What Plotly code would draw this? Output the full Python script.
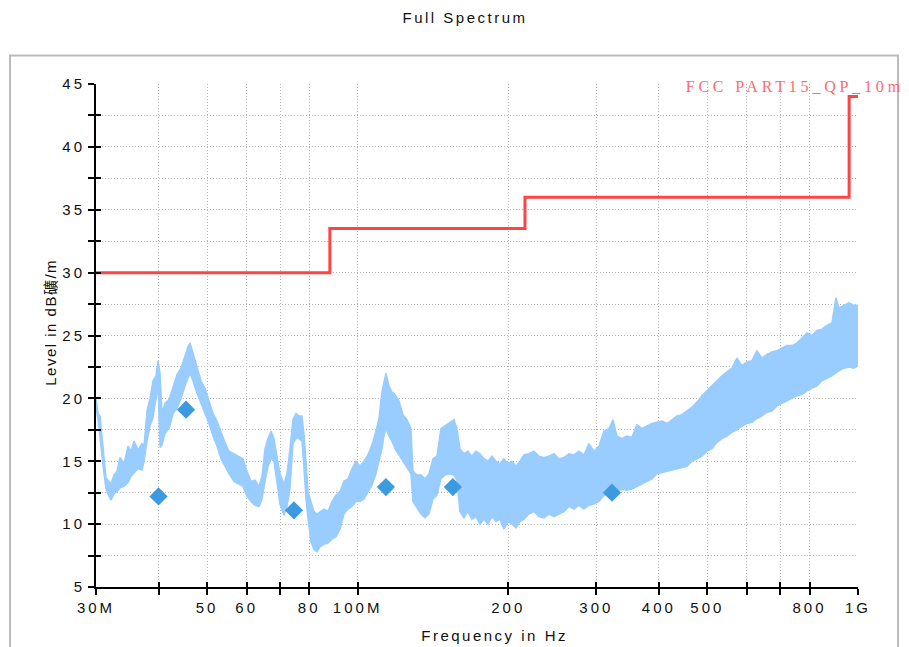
import plotly.graph_objects as go

# ---------------- data ----------------
title_text = "Full Spectrum"
x_title = "Frequency in Hz"
y_title = "Level in dB礦/m"
limit_name = "FCC PART15_QP_10m"

freq_mhz = [30.0, 30.28, 30.56, 30.84, 31.13, 31.41, 31.85, 32.15, 32.59, 33.04, 33.50, 34.12, 34.76,
            35.24, 35.73, 36.40, 37.07, 37.42, 37.94, 38.46, 39.00, 39.54, 39.91, 40.28, 40.65, 41.21,
            41.98, 42.76, 43.55, 44.36, 45.19, 45.81, 46.24, 46.88, 47.75, 48.64, 49.54, 50.46, 51.40,
            52.35, 53.33, 54.32, 55.33, 56.61, 57.93, 59.01, 60.10, 61.22, 62.36, 63.51, 64.40, 65.29,
            66.20, 67.12, 68.05, 68.99, 69.95, 71.25, 72.24, 73.24, 74.26, 75.29, 76.34, 77.40, 78.11,
            78.84, 79.57, 80.67, 81.79, 82.93, 84.08, 85.64, 87.23, 88.85, 90.51, 92.19, 93.90, 95.65,
            97.42, 99.23, 101.07, 102.95, 104.86, 106.81, 108.80, 110.31, 111.84, 112.88, 113.92, 115.50,
            117.11, 118.74, 120.94, 123.19, 125.48, 127.81, 128.99, 131.39, 133.83, 136.31, 138.85,
            141.42, 144.05, 146.73, 149.45, 152.23, 155.77, 157.94, 160.13, 163.10, 166.13, 169.22,
            172.36, 175.57, 178.83, 182.15, 185.54, 188.98, 192.49, 196.07, 199.71, 203.42, 207.20,
            211.05, 214.97, 219.98, 225.10, 230.34, 235.70, 241.18, 246.80, 252.54, 258.42, 264.43,
            270.59, 276.89, 283.33, 289.93, 296.67, 303.61, 310.68, 317.91, 323.81, 329.82, 337.50,
            345.35, 353.39, 361.62, 370.03, 378.64, 387.46, 396.47, 405.70, 415.14, 424.80, 434.69,
            444.80, 455.15, 465.75, 476.58, 487.67, 499.02, 510.64, 522.52, 534.68, 547.12, 559.85,
            572.89, 586.22, 599.86, 613.81, 628.10, 642.71, 657.67, 672.98, 688.63, 704.66, 721.06,
            737.84, 755.01, 772.58, 790.55, 808.96, 827.78, 847.05, 866.76, 886.93, 903.41, 915.95,
            937.26, 959.07, 981.38, 1000.0]
level_upper = [20.0, 18.8, 18.6, 17.0, 15.2, 13.7, 13.4, 13.2, 13.9, 14.2, 15.3, 14.8, 16.2,
               15.8, 16.6, 15.9, 16.4, 16.2, 19.0, 20.0, 21.4, 21.8, 23.0, 22.0, 18.8, 19.6,
               19.9, 21.0, 21.9, 22.4, 23.4, 24.1, 24.4, 23.6, 22.5, 21.4, 20.8, 19.8, 18.8,
               18.2, 17.3, 16.5, 15.8, 15.6, 15.4, 15.2, 14.2, 13.4, 13.5, 13.0, 13.8, 16.0,
               16.8, 17.4, 16.8, 15.4, 14.0, 13.2, 14.0, 16.0, 18.3, 18.8, 18.6, 18.6, 17.2,
               15.0, 12.6, 11.8, 11.0, 10.8, 11.0, 11.2, 11.0, 11.8, 12.3, 12.6, 13.4, 13.6,
               14.4, 15.0, 14.6, 15.0, 15.5, 16.3, 17.4, 18.4, 20.5, 21.4, 22.0, 21.0,
               20.5, 20.3, 19.8, 18.7, 18.3, 17.6, 14.2, 13.9, 13.9, 13.6, 14.0,
               15.2, 15.4, 17.6, 17.8, 18.0, 18.3, 17.6, 16.0, 15.6, 15.8, 15.4,
               15.8, 15.6, 15.2, 15.0, 15.4, 15.0, 14.8, 15.2, 14.8, 15.0, 14.6,
               15.0, 15.5, 15.6, 15.8, 15.4, 15.3, 15.4, 15.6, 15.2, 15.3, 15.6,
               15.5, 15.8, 15.5, 16.4, 15.8, 16.2, 17.4, 17.6, 18.3, 17.0, 16.8,
               17.0, 16.9, 17.9, 17.6, 17.8, 18.0, 18.1, 18.2, 18.0, 18.3, 18.6,
               18.7, 19.0, 19.3, 19.7, 20.2, 20.6, 21.0, 21.4, 21.8, 22.1, 22.4,
               23.2, 22.6, 22.9, 23.0, 23.8, 23.2, 23.5, 23.7, 23.8, 24.0, 24.2,
               24.2, 24.4, 24.8, 25.2, 25.0, 25.4, 25.5, 25.8, 26.0, 28.0, 27.2,
               27.4, 27.6, 27.4, 27.4]
level_lower = [19.3, 18.3, 17.2, 15.5, 14.0, 12.8, 12.2, 11.9, 12.4, 12.6, 12.9, 13.0, 13.3,
               13.8, 14.1, 14.4, 14.3, 15.0, 16.6, 17.8, 18.5, 20.0, 21.0, 16.1, 16.3, 17.2,
               17.6, 18.8, 19.2, 20.0, 21.0, 21.6, 22.0, 21.4, 20.4, 19.6, 18.8, 18.0, 17.0,
               16.2, 15.2, 14.6, 14.0, 13.4, 13.2, 13.0, 12.2, 11.8, 11.5, 11.4, 12.0, 13.4,
               14.6, 15.2, 15.0, 13.2, 11.6, 10.7, 11.4, 12.8, 16.4, 16.8, 16.8, 16.6, 14.5,
               12.0, 10.5, 8.6, 8.0, 7.8, 8.2, 8.4, 8.5, 8.8, 9.0, 9.6, 10.8, 11.2,
               11.4, 11.8, 11.8, 12.0, 12.6, 13.1, 14.0, 15.0, 16.0, 17.0, 17.6, 17.0,
               16.6, 16.0, 15.6, 15.0, 14.5, 14.0, 11.8, 11.3, 10.8, 10.5, 10.8,
               12.0, 12.3, 13.6, 13.9, 14.0, 13.9, 13.5, 11.0, 10.5, 11.0, 10.4,
               10.6, 10.0, 10.4, 10.0, 10.6, 10.2, 10.4, 9.6, 10.2, 10.0, 9.7,
               10.2, 10.4, 10.8, 11.0, 10.6, 10.5, 10.8, 10.6, 10.8, 11.0, 11.4,
               11.2, 11.5, 11.2, 11.5, 11.6, 11.8, 12.3, 12.4, 12.5, 12.6, 12.8,
               12.7, 12.8, 13.0, 13.2, 13.4, 13.6, 14.0, 14.1, 14.2, 14.3, 14.4,
               14.5, 14.6, 15.0, 15.2, 15.4, 15.8, 16.0, 16.5, 16.8, 17.0, 17.3,
               17.5, 17.8, 18.0, 18.1, 18.4, 18.6, 18.9, 19.0, 19.4, 19.6, 19.8,
               20.0, 20.2, 20.3, 20.6, 20.8, 21.0, 21.4, 21.6, 21.8, 22.0, 22.2,
               22.4, 22.5, 22.4, 22.6]

# quasi-peak final measurements
qp_freq_mhz = [40.0, 45.4, 74.6, 113.9, 155.0, 322.3]
qp_level = [12.2, 19.1, 11.1, 12.95, 12.95, 12.5]

# limit line (step function)
limit_freq_mhz = [30, 88, 216, 960, 1000]
limit_level = [30.0, 33.5, 36.0, 44.0, 44.0]

# axis ticks
x_tickvals = [30, 40, 50, 60, 70, 80, 100, 200, 300, 400, 500, 600, 700, 800, 1000]
x_ticktext = ["30M", "", "50", "60", "", "80", "100M", "200", "300", "400", "500", "", "", "800", "1G"]
y_tickvals = [5, 7.5, 10, 12.5, 15, 17.5, 20, 22.5, 25, 27.5, 30, 32.5, 35, 37.5, 40, 42.5, 45]
y_ticktext = ["5", "", "10", "", "15", "", "20", "", "25", "", "30", "", "35", "", "40", "", "45"]

# ---------------- figure ----------------
FONT = "Liberation Sans, Arial, Noto Sans CJK SC, sans-serif"
TRACE = "#99CCFF"
fig = go.Figure()

# spectrum drawn as its filled min/max envelope
band_x = freq_mhz + freq_mhz[::-1]
band_y = level_upper + level_lower[::-1]
fig.add_trace(go.Scatter(x=band_x, y=band_y, mode="lines", fill="toself",
                         fillcolor=TRACE, line=dict(color=TRACE, width=1.5),
                         hoverinfo="skip", showlegend=False))

fig.add_trace(go.Scatter(x=limit_freq_mhz, y=limit_level, mode="lines", line_shape="hv",
                         line=dict(color="#FF4444", width=3), showlegend=False))

fig.add_trace(go.Scatter(x=qp_freq_mhz, y=qp_level, mode="markers",
                         marker=dict(symbol="diamond", size=14, color="#3C9BE0",
                                     line=dict(width=0)), showlegend=False))

# dummy trace for overlay axes (inside tick halves)
fig.add_trace(go.Scatter(x=[None], y=[None], xaxis="x2", yaxis="y2", showlegend=False,
                         hoverinfo="skip"))

L, R, T, B = 96, 909 - 858, 83.5, 647 - 587
W, H = 909, 647
pw, ph = W - L - R, H - T - B

axis_common = dict(showline=True, linecolor="black", linewidth=2,
                   ticks="outside", ticklen=6, tickwidth=1.5, tickcolor="black",
                   showgrid=True, gridcolor="#B4B4B4", griddash="1px,2px", gridwidth=1,
                   zeroline=False, tickfont=dict(family=FONT, size=15, color="#111111"))

fig.update_layout(
    width=W, height=H,
    margin=dict(l=L, r=R, t=T, b=B),
    paper_bgcolor="white", plot_bgcolor="white",
    title=dict(text=title_text, x=465 / W, xanchor="center", y=1 - 18 / H, yanchor="middle",
               font=dict(family=FONT, size=15, color="#111111")),
    xaxis=dict(type="log", range=[1.4771213, 3.0], tickmode="array",
               tickvals=x_tickvals, ticktext=x_ticktext, **axis_common),
    yaxis=dict(range=[5, 45], tickmode="array", tickvals=y_tickvals, ticktext=y_ticktext,
               **axis_common),
    xaxis2=dict(type="log", range=[1.4771213, 3.0], overlaying="x", anchor="y2", side="bottom",
                tickmode="array", tickvals=x_tickvals, ticks="inside", ticklen=5, tickwidth=1.5,
                tickcolor="black", showticklabels=False, showgrid=False, showline=False,
                zeroline=False),
    yaxis2=dict(range=[5, 45], overlaying="y", anchor="x2", side="left",
                tickmode="array", tickvals=y_tickvals, ticks="inside", ticklen=5, tickwidth=1.5,
                tickcolor="black", showticklabels=False, showgrid=False, showline=False,
                zeroline=False),
    showlegend=False,
)

# outer frame
fig.add_shape(type="rect", xref="paper", yref="paper",
              x0=(10 - L) / pw, x1=(898 - L) / pw,
              y0=(H - B - 670) / ph, y1=(H - B - 55) / ph,
              line=dict(color="#BBBBBB", width=2), layer="below")

fig.add_annotation(text=limit_name, xref="paper", yref="paper",
                   x=(795 - L) / pw, xanchor="center", y=(H - B - 86) / ph, yanchor="middle",
                   showarrow=False,
                   font=dict(family="Liberation Serif, Times New Roman, serif", size=16,
                             color="#FF6B6B"))
fig.add_annotation(text=x_title, xref="paper", yref="paper",
                   x=(494 - L) / pw, xanchor="center", y=(H - B - 636) / ph, yanchor="middle",
                   showarrow=False, font=dict(family=FONT, size=15, color="#111111"))
fig.add_annotation(text=y_title, xref="paper", yref="paper", textangle=-90,
                   x=(50 - L) / pw, xanchor="center", y=(H - B - 322) / ph, yanchor="middle",
                   showarrow=False, font=dict(family=FONT, size=15, color="#111111"))

post = """
document.body.style.margin = '0';
document.body.style.padding = '0';
var gd = document.getElementById('{plot_id}');
function sp(sel, v){ gd.querySelectorAll(sel).forEach(function(t){ t.style.letterSpacing = v; }); }
sp('.gtitle', '2.5px');
sp('.xtick text', '3px');
sp('.ytick text', '3px');
sp('.annotation[data-index="0"] text', '3.8px');
sp('.annotation[data-index="1"] text', '2.5px');
sp('.annotation[data-index="2"] text', '1.5px');
"""

fig.write_html("out.html", post_script=post, config={"displayModeBar": False})
